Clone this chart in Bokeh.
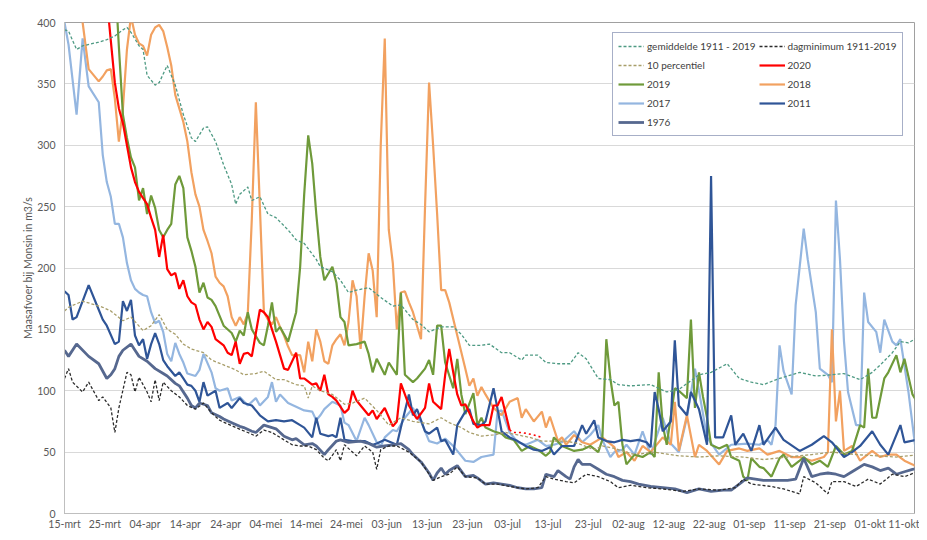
from bokeh.plotting import figure
from bokeh.models import Range1d, FixedTicker, Legend, LegendItem
from bokeh.embed import file_html
from bokeh.resources import INLINE

# x = day index of the series; tick positions mark the label dates
tick_days = [-2.5, 7.5, 17.5, 27.5, 37.5, 47.5, 57.5, 67.5, 77.5, 87.5, 97.5, 107.5,
             117.5, 127.5, 137.5, 147.5, 157.5, 167.5, 177.5, 187.5, 197.5, 207.5]
tick_labels = ["15-mrt", "25-mrt", "04-apr", "14-apr", "24-apr", "04-mei", "14-mei", "24-mei",
               "03-jun", "13-jun", "23-jun", "03-jul", "13-jul", "23-jul", "02-aug", "12-aug",
               "22-aug", "01-sep", "11-sep", "21-sep", "01-okt", "11-okt"]

gem_pts = [(-2.5,394),(-1.5,393),(0.5,378),(2,381),(6,384),(8,386),(10,389),(12,394),(13,396),(14,392),(16,381),(17,378),(18,357),(20,349),(21,351),(23,365),(25,349),(27,325),(29,306),(30,303),(32,314),(33,315),(35,303),(37,284),(39,268),(40,252),(41,260),(43,266),(44,255),(46,258),(48,244),(50,241),(53,231),(55,223),(57,220),(60,207),(61,201),(64,197),(66,190),(68,180),(70,182),(73,184),(76,176),(79,169),(81,170),(84,158),(86,154),(88,148),(91,152),(94,152),(96,146),(98,137),(101,137),(103,138),(106,131),(108,131),(111,125),(112,129),(115,129),(117,123),(120,122),(123,122),(125,131),(127,126),(130,110),(133,109),(135,105),(138,104),(143,105),(147,99),(150,101),(155,113),(158,115),(162,122),(165,110),(168,107),(171,105),(175,110),(180,115),(184,112),(188,113),(191,114),(195,109),(198,115),(200,121),(203,131),(205,140),(207,139),(210,145)]

dagmin_pts = [(-2.5,110),(-1.5,118),(-0.5,107),(2,99),(3.5,107),(6,92),(7,95),(9,86),(10,66),(11,86),(13,115),(14,113),(15,99),(16,111),(18,99),(19,91),(20,109),(21,92),(22,107),(24,100),(26,95),(28,88),(30,85),(32,90),(34,82),(36,76),(38,73),(40,70),(43,66),(45,63),(47,68),(49,66),(52,60),(54,56),(56,55),(58,55),(60,52),(62,45),(63,43),(65,52),(66,43),(67,56),(70,47),(72,55),(74,50),(75,36),(76,52),(78,55),(80,55),(83,50),(86,42),(89,27),(91,30),(93,32),(95,38),(97,30),(100,29),(102,24),(105,24),(108,22),(112,20),(115,21),(117,30),(119,28),(122,26),(124,25),(127,32),(130,30),(133,26),(135,21),(138,23),(142,21),(146,20),(151,18),(155,20),(160,19),(164,21),(166,28),(168,24),(173,22),(176,20),(180,16),(181,30),(184,25),(187,16),(188,26),(191,26),(194,22),(197,28),(200,24),(203,32),(206,30),(210,35)]

p10_pts = [(-2.5,165),(-1.5,168),(2,173),(7,168),(9,165),(12,157),(14,160),(17,149),(19,153),(21,162),(23,150),(25,146),(27,138),(29,134),(32,131),(34,125),(37,121),(40,117),(42,113),(45,114),(47,116),(50,109),(52,109),(55,105),(57,104),(58,94),(59,104),(61,100),(64,97),(67,89),(69,90),(72,94),(75,84),(78,72),(81,78),(84,75),(88,73),(91,78),(93,74),(96,70),(98,66),(101,63),(104,64),(107,66),(110,64),(113,62),(116,59),(119,59),(122,59),(125,57),(129,52),(131,55),(134,53),(139,48),(144,50),(150,47),(155,46),(160,47),(166,46),(171,44),(177,46),(183,48),(188,50),(194,48),(199,47),(204,46),(210,48)]

y2020_pts = [(8,420),(9,385),(10,351),(11,330),(12,318),(13,300),(14,282),(15,270),(16,262),(17,257),(18,252),(19,241),(20,231),(21,209),(22,227),(23,199),(24,194),(25,196),(26,183),(27,190),(28,177),(29,172),(30,170),(31,158),(32,150),(33,156),(34,152),(35,142),(37,137),(38,131),(39,129),(40,140),(41,122),(42,130),(43,131),(44,128),(46,166),(47,164),(48,160),(50,140),(51,129),(52,118),(53,117),(55,131),(56,110),(57,110),(59,105),(60,106),(61,100),(62,113),(63,97),(64,95),(65,92),(67,82),(68,85),(69,100),(70,92),(71,88),(73,80),(74,84),(75,77),(77,86),(79,71),(80,75),(81,106),(83,88),(84,82),(85,77),(87,86),(88,106),(89,91),(91,85),(92,113),(93,134),(94,115),(95,97),(96,88),(97,89),(99,75),(100,70),(101,72),(103,72),(104,88),(105,88),(106,95),(108,68)]
y2020_tail_pts = [(108,68),(109,66),(111,66),(114,64),(116,62)]

y2019_pts = [(10,440),(11,380),(12,325),(13,306),(14,290),(15,282),(16,255),(17,265),(18,244),(19,259),(20,249),(21,231),(22,225),(23,231),(24,236),(25,268),(26,275),(27,265),(28,225),(29,214),(30,201),(31,180),(32,188),(33,176),(34,174),(35,169),(36,161),(37,153),(39,147),(40,140),(41,149),(42,145),(43,164),(44,150),(46,139),(47,137),(48,153),(49,172),(50,148),(51,152),(53,140),(55,164),(56,201),(57,260),(58,308),(59,285),(60,244),(61,209),(62,190),(64,201),(65,188),(66,160),(67,156),(68,137),(70,138),(72,140),(73,130),(74,115),(75,126),(77,113),(78,123),(80,113),(81,180),(82,113),(84,107),(85,110),(87,118),(88,125),(89,113),(90,153),(91,153),(92,123),(94,102),(95,126),(96,97),(97,81),(99,98),(100,72),(101,78),(102,70),(104,67),(106,65),(107,62),(109,60),(111,51),(113,55),(115,52),(117,47),(118,50),(119,62),(121,55),(124,51),(126,52),(128,55),(130,50),(131,60),(132,142),(133,110),(134,88),(135,91),(136,56),(137,40),(139,48),(141,46),(143,50),(144,46),(145,115),(146,72),(147,56),(149,102),(150,100),(152,94),(153,158),(154,86),(155,115),(156,95),(157,78),(158,56),(160,53),(162,56),(163,46),(165,43),(166,30),(167,27),(168,45),(170,38),(171,37),(173,30),(175,45),(176,48),(178,38),(180,43),(181,46),(183,40),(185,43),(187,38),(189,55),(191,48),(193,51),(195,72),(196,70),(197,118),(198,78),(199,78),(201,110),(202,115),(204,129),(205,115),(206,126),(208,97),(210,86)]

y2018_pts = [(0.5,440),(2,400),(3.5,362),(6,352),(7,356),(8,361),(9,362),(10,338),(11,303),(12,330),(13,378),(14,405),(15,390),(16,383),(17,381),(18,373),(19,390),(20,396),(21,398),(22,393),(23,380),(24,365),(25,341),(26,330),(27,319),(28,303),(29,278),(30,260),(31,250),(32,231),(33,222),(34,212),(35,193),(36,188),(37,185),(38,177),(39,160),(40,153),(41,160),(42,154),(43,163),(44,240),(45,335),(46,250),(47,164),(48,158),(49,154),(50,160),(51,152),(52,145),(53,136),(54,129),(56,129),(57,115),(58,140),(59,124),(60,150),(61,140),(62,124),(63,122),(64,137),(65,142),(66,146),(67,137),(68,156),(69,190),(70,177),(71,134),(72,177),(73,212),(74,198),(75,160),(76,300),(77,387),(78,231),(79,204),(80,150),(81,180),(82,181),(83,172),(84,164),(86,142),(87,250),(88,351),(89,300),(90,244),(91,182),(92,182),(93,172),(95,145),(97,118),(98,104),(99,110),(100,96),(101,103),(102,97),(104,86),(106,80),(108,91),(110,94),(111,78),(112,85),(114,75),(116,83),(117,70),(118,79),(120,59),(121,62),(122,56),(124,64),(126,58),(128,56),(130,60),(131,62),(134,54),(135,46),(137,50),(139,43),(141,55),(143,50),(146,62),(148,56),(149,91),(150,51),(152,80),(154,46),(155,56),(157,51),(160,40),(162,51),(165,53),(167,51),(170,53),(172,48),(175,51),(178,46),(180,46),(183,43),(186,46),(187,50),(188,150),(189,75),(190,100),(191,51),(193,55),(195,43),(198,51),(200,46),(202,48),(204,48),(206,43),(208,40),(210,36)]

y2017_pts = [(-2.5,400),(-1.5,382),(0.5,325),(2,387),(3.5,348),(6,335),(7,292),(8,270),(9,258),(10,236),(11,236),(12,225),(13,204),(14,190),(15,183),(16,180),(17,178),(18,177),(19,164),(20,155),(21,157),(22,148),(23,130),(24,124),(25,139),(26,130),(27,123),(28,114),(30,112),(31,117),(32,130),(34,115),(35,102),(36,100),(38,102),(39,92),(41,95),(43,88),(45,94),(46,88),(48,95),(49,107),(50,91),(51,97),(53,90),(55,87),(57,84),(59,83),(60,76),(61,80),(62,85),(64,91),(66,88),(67,74),(68,72),(70,59),(72,78),(73,72),(75,58),(76,55),(77,62),(79,68),(80,67),(82,78),(84,86),(85,78),(86,75),(88,59),(90,57),(92,61),(94,55),(95,51),(97,43),(99,42),(101,46),(104,48),(105,83),(106,84),(108,66),(110,58),(112,56),(115,60),(117,55),(119,56),(121,58),(124,67),(126,58),(128,64),(130,72),(131,60),(133,46),(134,50),(136,52),(137,56),(139,48),(141,67),(143,48),(146,78),(148,57),(150,50),(152,78),(154,118),(155,100),(157,62),(160,48),(163,56),(167,57),(170,56),(172,60),(173,56),(174,72),(175,137),(176,116),(178,97),(179,170),(181,232),(182,207),(184,164),(185,118),(187,113),(188,107),(189,255),(190,207),(191,140),(192,99),(194,72),(195,72),(196,180),(197,156),(199,148),(200,131),(201,158),(203,140),(204,137),(205,142),(207,99),(209,46),(210,40)]

y2011_pts = [(-2.5,181),(-1.5,178),(-0.5,158),(0.5,160),(3.5,186),(6,166),(7,158),(8,153),(10,138),(11,140),(12,173),(13,165),(14,174),(15,145),(16,137),(17,142),(18,126),(19,138),(20,147),(21,138),(22,125),(23,120),(25,112),(26,115),(27,110),(28,105),(29,104),(30,100),(31,91),(32,107),(33,96),(35,100),(36,86),(38,90),(39,86),(41,94),(42,90),(44,88),(46,80),(48,75),(50,76),(52,75),(54,76),(56,72),(57,70),(59,62),(60,78),(61,65),(63,63),(64,64),(65,62),(66,78),(67,60),(69,59),(72,59),(74,56),(75,57),(77,60),(80,56),(81,70),(83,97),(84,80),(85,85),(87,67),(88,65),(90,70),(91,59),(92,60),(94,48),(95,72),(97,83),(98,85),(99,73),(101,72),(102,75),(104,102),(105,85),(106,67),(108,62),(110,59),(112,55),(114,52),(116,51),(118,54),(119,48),(121,55),(124,55),(126,72),(127,65),(129,76),(130,62),(132,59),(134,58),(136,60),(138,59),(140,60),(142,58),(143,54),(144,99),(145,85),(146,67),(148,75),(149,141),(150,88),(152,80),(153,99),(155,85),(157,56),(158,275),(159,62),(161,62),(163,80),(164,56),(166,65),(168,51),(170,72),(171,56),(174,70),(176,60),(180,51),(183,56),(186,63),(188,58),(191,46),(193,50),(195,55),(198,67),(200,56),(202,48),(205,72),(206,58),(209,60),(210,60)]

y1976_pts = [(-2.5,133),(-1.5,128),(0.5,138),(3.5,128),(6,122),(8,110),(9,113),(10,118),(11,128),(12,133),(14,138),(15,133),(16,128),(18,124),(20,118),(22,114),(23,112),(25,106),(26,104),(28,94),(29,88),(30,86),(31,90),(33,88),(34,82),(36,79),(37,77),(39,74),(41,71),(42,70),(44,67),(45,66),(47,72),(49,70),(50,69),(52,63),(54,60),(55,61),(57,56),(59,57),(60,55),(62,48),(63,52),(65,59),(66,60),(68,58),(71,59),(73,57),(75,54),(77,55),(79,56),(81,57),(83,52),(84,48),(86,42),(88,33),(89,27),(90,33),(91,37),(92,32),(93,35),(95,39),(97,30),(99,31),(100,29),(102,24),(104,25),(106,24),(108,23),(110,21),(112,20),(114,20),(116,21),(117,32),(119,30),(120,35),(122,30),(123,28),(124,38),(125,44),(126,40),(128,40),(130,36),(132,32),(134,30),(136,27),(138,26),(140,24),(143,22),(146,21),(149,20),(152,17),(155,20),(158,18),(161,19),(163,19),(165,24),(167,29),(169,28),(171,27),(174,27),(177,27),(179,28),(181,45),(183,30),(185,32),(187,33),(189,32),(191,30),(193,34),(196,40),(198,38),(200,35),(202,37),(204,32),(206,34),(208,36),(210,37)]


def xs(pts):
    return [d for d, v in pts]


def ys(pts):
    return [v for d, v in pts]


FONT = "Lato"
TXT = "#595959"

p = figure(width=919, height=532, x_range=Range1d(-2.5, 208.5), y_range=Range1d(0, 400),
           output_backend="svg", toolbar_location=None, margin=(0, 0, -8, 0),
           min_border_left=64, min_border_right=5, min_border_top=22, min_border_bottom=12)
p.background_fill_color = "white"
p.border_fill_color = "white"
p.outline_line_color = "#a0a0a0"

p.xaxis.ticker = FixedTicker(ticks=tick_days)
p.xaxis.major_label_overrides = {d: lab for d, lab in zip(tick_days, tick_labels)}
p.yaxis.ticker = FixedTicker(ticks=list(range(0, 401, 50)))
for ax in (p.xaxis[0], p.yaxis[0]):
    ax.major_tick_out = 0
    ax.major_tick_in = 0
    ax.minor_tick_line_color = None
    ax.major_label_text_font = FONT
    ax.major_label_text_font_size = "10.5px"
    ax.major_label_text_color = TXT
    ax.axis_line_color = "#bfbfbf"
p.xaxis.major_label_standoff = 4
p.yaxis.major_label_standoff = 9
p.yaxis.axis_label = "Maasafvoer bij Monsin in m3/s"
p.yaxis.axis_label_text_font = FONT
p.yaxis.axis_label_text_font_size = "10.5px"
p.yaxis.axis_label_text_font_style = "normal"
p.yaxis.axis_label_text_color = TXT
p.yaxis.axis_label_standoff = 0
p.xgrid.grid_line_color = None
p.ygrid.grid_line_color = "#d9d9d9"

W = 2.2
r2017 = p.line(xs(y2017_pts), ys(y2017_pts), line_color="#94b6e0", line_width=W)
r2018 = p.line(xs(y2018_pts), ys(y2018_pts), line_color="#f2a160", line_width=W)
r2019 = p.line(xs(y2019_pts), ys(y2019_pts), line_color="#6f9a3a", line_width=W)
r2011 = p.line(xs(y2011_pts), ys(y2011_pts), line_color="#2f5597", line_width=W)
r1976 = p.line(xs(y1976_pts), ys(y1976_pts), line_color="#56688f", line_width=W + 0.6)
r2020 = p.line(xs(y2020_pts), ys(y2020_pts), line_color="#ff0000", line_width=W)
p.line(xs(y2020_tail_pts), ys(y2020_tail_pts), line_color="#ff0000", line_width=1.6, line_dash="2 3")
rgem = p.line(xs(gem_pts), ys(gem_pts), line_color="#4e9a83", line_width=1.3, line_dash="3 2")
rp10 = p.line(xs(p10_pts), ys(p10_pts), line_color="#a89e6a", line_width=1.3, line_dash="3 2")
rdag = p.line(xs(dagmin_pts), ys(dagmin_pts), line_color="#2b2b2b", line_width=1.3, line_dash="3 2")

# legend fills column by column: left column first, then right column
items = [
    LegendItem(label="gemiddelde 1911 - 2019", renderers=[rgem]),
    LegendItem(label="10 percentiel", renderers=[rp10]),
    LegendItem(label="2019", renderers=[r2019]),
    LegendItem(label="2017", renderers=[r2017]),
    LegendItem(label="1976", renderers=[r1976]),
    LegendItem(label="dagminimum 1911-2019", renderers=[rdag]),
    LegendItem(label="2020", renderers=[r2020]),
    LegendItem(label="2018", renderers=[r2018]),
    LegendItem(label="2011", renderers=[r2011]),
]
legend = Legend(items=items, location=(548, 377), ncols=2,
                border_line_color="#4f5f8f", border_line_width=1,
                background_fill_color="white", background_fill_alpha=1,
                label_text_font=FONT, label_text_font_size="10px", label_text_color="#404040",
                glyph_width=26, glyph_height=16, label_height=16, label_standoff=3,
                spacing=3, padding=5, margin=0, label_width=108)
p.add_layout(legend)

open("out.html", "w").write(file_html(p, INLINE))
